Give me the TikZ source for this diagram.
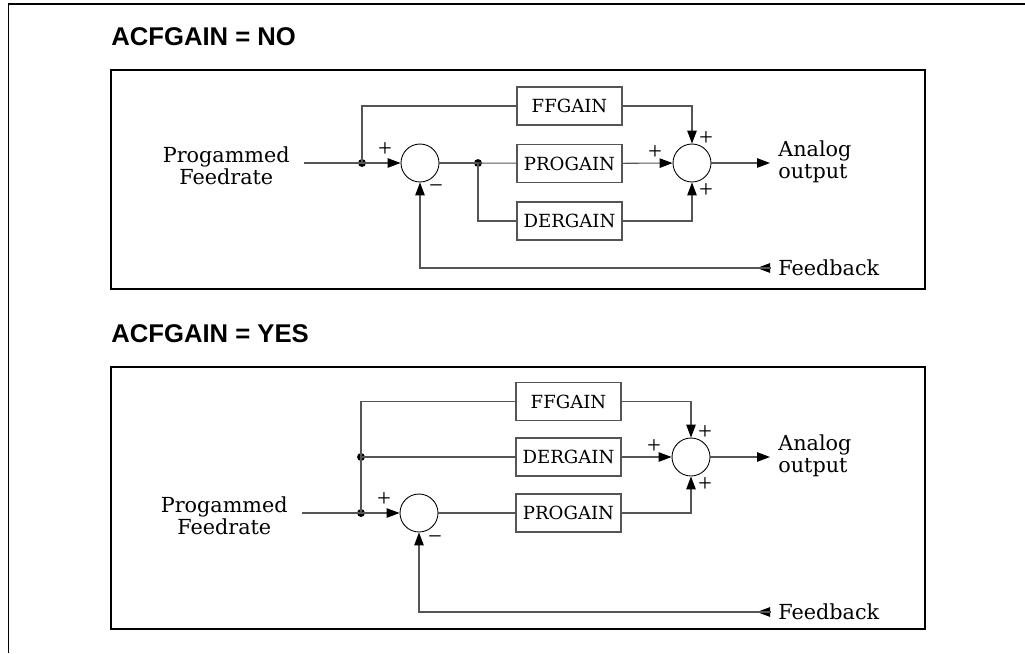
\documentclass[tikz,border=0pt]{standalone}
\usepackage{fontspec}
\setmainfont{DejaVu Serif}
\newfontfamily\titlefont{Liberation Sans}
\newfontfamily\signfont{Liberation Serif}
\usetikzlibrary{arrows.meta, positioning, calc}

\begin{document}
\begin{tikzpicture}[x=0.02cm, y=-0.02cm]

% ---------------------------------------------------------------- colours
\definecolor{wirecol}{HTML}{555555}   % the signal lines, the gain boxes
\definecolor{framecol}{HTML}{000000}  % frames, summing points, tips

% ================================================================
% one unit = one pixel of the page (1025 x 653), y running down
%
%   frames x = 111 .. 925, gain boxes 105 x 38 at x = 569.5
%   upper panel y = 70 .. 289, lower panel y = 367 .. 629
%   summing points r = 19, labels hang left / right of the wiring
% ================================================================

\tikzset{
    panel/.style={draw=framecol, line width=1.1pt},
    gainbox/.style={
        draw=wirecol, line width=0.6pt,
        minimum width=2.1cm, minimum height=0.76cm,
        inner sep=0pt, font=\fontsize{10.3}{12}\selectfont,
    },
    sumpt/.style={circle, draw=framecol, line width=0.5pt,
        minimum size=0.76cm, inner sep=0pt},
    jdot/.style={circle, fill=framecol, inner sep=0pt, minimum size=4.5pt},
    wire/.style={draw=wirecol, line width=0.6pt},
    arr/.style={wire,
        -{Triangle[length=2.6mm, width=1.9mm, color=framecol]}},
    lbl/.style={font=\fontsize{11.8}{12.6}\selectfont, inner sep=0pt},
    sign/.style={font=\signfont\fontsize{14}{14}\selectfont, inner sep=0pt},
    title/.style={font=\titlefont\bfseries\fontsize{14.6}{16}\selectfont,
        anchor=base west, inner sep=0pt},
}

\useasboundingbox (0,0) rectangle (1025,653);

% ================================================================ outer frame
\draw[panel] (8.5,653) -- (8.5,4) -- (1025,4);

% ================================================================ ACFGAIN = NO
\node[title] (a-title) at (111,45) {ACFGAIN = NO};
\draw[panel] (111,70) rectangle (925,289);

\node[sumpt] (a-sum1) at (420,163) {};
\node[sumpt] (a-sum2) at (692,163) {};
\foreach \n/\y/\t in {ff/106/FFGAIN, pro/163.5/PROGAIN, der/221/DERGAIN} {
    \node[gainbox] (a-\n) at (569.5,\y) {\t};
}
\node[jdot] (a-j1) at (362,163) {};
\node[jdot] (a-j2) at (478,163) {};
\coordinate (a-start) at (304,163);
\coordinate (a-fbin) at (770,268);

\node[lbl, align=center, anchor=east] (a-in) at (290,166) {Progammed\\Feedrate};
\node[lbl, align=left, anchor=west] (a-out) at (778,162) {Analog\\output};
\node[lbl, anchor=west] (a-fb) at (778,268) {Feedback};

% wiring
\draw[wire] (a-start) -- (a-j1.center);
\draw[arr] (a-j1.center) -- (a-sum1);
\draw[wire] (a-j1.center) |- (a-ff);
\draw[wire] (a-sum1) -- (a-j2.center);
\draw[wire] (a-j2.center) -- (a-pro);
\draw[wire] (a-j2.center) |- (a-der);
\draw[arr] (a-ff) -| (a-sum2);
\draw[arr] (a-pro) -- (a-sum2);
\draw[arr] (a-der) -| (a-sum2);
\draw[arr, shorten >=1.6mm] (a-sum2) -- (a-out.west |- a-sum2);
\draw[arr] (a-fbin) -- ++(-13,0);
\draw[arr] (a-fbin) -| (a-sum1);

% signs
\node[sign] (a-p1) at (385,150) {+};
\node[sign] (a-m1) at (436,189) {−};
\node[sign] (a-p2) at (706,139) {+};
\node[sign] (a-p3) at (655,153) {+};
\node[sign] (a-p4) at (706,191) {+};

% ================================================================ ACFGAIN = YES
\node[title] (b-title) at (111,342) {ACFGAIN = YES};
\draw[panel] (111,367) rectangle (925,629);

\node[sumpt] (b-sum1) at (419,513) {};
\node[sumpt] (b-sum2) at (691,457) {};
\foreach \n/\y/\t in {ff/401.5/FFGAIN, der/457/DERGAIN, pro/513/PROGAIN} {
    \node[gainbox] (b-\n) at (568.5,\y) {\t};
}
\node[jdot] (b-j1) at (361,513) {};
\node[jdot] (b-j2) at (361,457) {};
\coordinate (b-start) at (302,513);
\coordinate (b-fbin) at (770,612);

\node[lbl, align=center, anchor=east] (b-in) at (288,516) {Progammed\\Feedrate};
\node[lbl, align=left, anchor=west] (b-out) at (778,456) {Analog\\output};
\node[lbl, anchor=west] (b-fb) at (778,612) {Feedback};

% wiring
\draw[wire] (b-start) -- (b-j1.center);
\draw[arr] (b-j1.center) -- (b-sum1);
\draw[wire] (b-j1.center) -- (b-j2.center);
\draw[wire] (b-j2.center) |- (b-ff);
\draw[wire] (b-j2.center) -- (b-der);
\draw[wire] (b-sum1) -- (b-pro);
\draw[arr] (b-ff) -| (b-sum2);
\draw[arr] (b-der) -- (b-sum2);
\draw[arr] (b-pro) -| (b-sum2);
\draw[arr, shorten >=1.6mm] (b-sum2) -- (b-out.west |- b-sum2);
\draw[arr] (b-fbin) -- ++(-13,0);
\draw[arr] (b-fbin) -| (b-sum1);

% signs
\node[sign] (b-p1) at (384,500) {+};
\node[sign] (b-m1) at (435,540) {−};
\node[sign] (b-p2) at (705,433) {+};
\node[sign] (b-p3) at (654,447) {+};
\node[sign] (b-p4) at (705,485) {+};

\end{tikzpicture}
\end{document}
